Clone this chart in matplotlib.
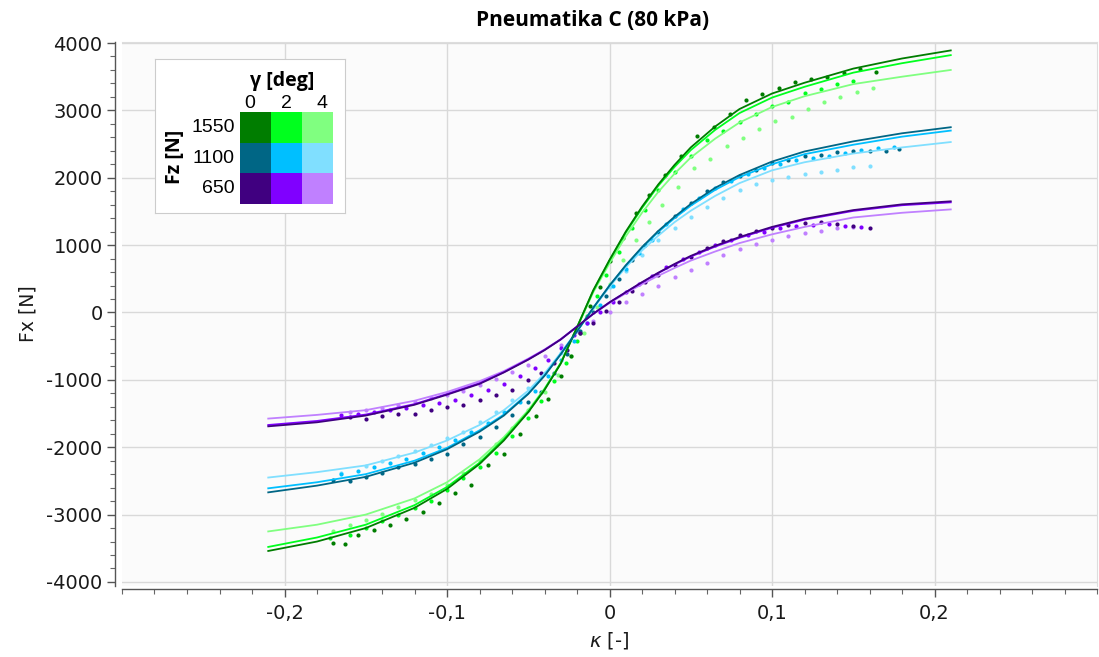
import matplotlib
matplotlib.use("Agg")
import matplotlib.pyplot as plt
from matplotlib.patches import Rectangle
from matplotlib.ticker import FuncFormatter, MultipleLocator, FixedLocator

plt.rcParams["axes.unicode_minus"] = False
plt.rcParams["font.family"] = ["DejaVu Sans"]

# --- data --------------------------------------------------------------
FZ_LABELS = ["1550", "1100", "650"]
GAMMA_LABELS = ["0", "2", "4"]

COLORS = [
    ["#007d00", "#00ff1e", "#80ff80"],   # 1550 N
    ["#006685", "#00bfff", "#80dfff"],   # 1100 N
    ["#400080", "#8000ff", "#c080ff"],   # 650 N
]

# fitted curves (same kappa grid for all)
KAPPA_FIT = [-0.21, -0.18, -0.15, -0.12, -0.10, -0.08, -0.065, -0.05, -0.04, -0.03, -0.02,
             -0.01, 0.0, 0.01, 0.02, 0.03, 0.04, 0.05, 0.065, 0.08, 0.10, 0.12, 0.15,
             0.18, 0.21]

fit_1550_0 = [-3540, -3400, -3200, -2900, -2620, -2250, -1900, -1480, -1150, -760, -220,
              330, 780, 1200, 1570, 1900, 2190, 2450, 2760, 3020, 3250, 3410, 3620,
              3770, 3890]
fit_1550_2 = [-3480, -3340, -3150, -2860, -2590, -2230, -1880, -1470, -1140, -750, -220,
              320, 770, 1185, 1550, 1880, 2160, 2410, 2710, 2960, 3190, 3350, 3560,
              3700, 3820]
fit_1550_4 = [-3250, -3150, -3000, -2760, -2520, -2180, -1850, -1450, -1130, -750, -230,
              300, 730, 1130, 1480, 1790, 2060, 2300, 2580, 2820, 3050, 3210, 3390,
              3500, 3600]
fit_1100_0 = [-2670, -2570, -2440, -2230, -2030, -1770, -1530, -1210, -940, -620, -280,
              70, 400, 700, 970, 1210, 1420, 1610, 1850, 2040, 2240, 2390, 2540,
              2660, 2750]
fit_1100_2 = [-2610, -2520, -2400, -2200, -2010, -1750, -1515, -1200, -935, -615, -280,
              70, 400, 695, 960, 1195, 1400, 1585, 1820, 2010, 2200, 2350, 2490,
              2610, 2700]
fit_1100_4 = [-2450, -2370, -2270, -2080, -1900, -1670, -1450, -1160, -905, -600, -275,
              60, 380, 670, 920, 1140, 1340, 1510, 1730, 1920, 2110, 2230, 2360,
              2450, 2530]
fit_650_0 = [-1690, -1630, -1530, -1370, -1220, -1060, -890, -700, -560, -400, -210,
             -20, 150, 300, 450, 590, 720, 840, 990, 1120, 1270, 1390, 1520,
             1605, 1650]
fit_650_2 = [-1670, -1610, -1515, -1360, -1210, -1050, -885, -695, -555, -400, -210,
             -20, 150, 300, 445, 585, 712, 830, 978, 1108, 1258, 1378, 1508,
             1592, 1635]
fit_650_4 = [-1575, -1520, -1450, -1310, -1180, -1020, -870, -685, -550, -395, -210,
             -20, 140, 285, 420, 545, 660, 770, 905, 1030, 1160, 1270, 1410,
             1480, 1530]

# measured points
k_1550_0 = [-0.170, -0.163, -0.155, -0.145, -0.135, -0.125, -0.115, -0.105, -0.095, -0.085,
            -0.075, -0.065, -0.055, -0.045, -0.038, -0.030, -0.024, -0.018, -0.012, -0.006,
            0.000, 0.008, 0.016, 0.024, 0.034, 0.044, 0.054, 0.064, 0.074, 0.084, 0.094,
            0.104, 0.114, 0.124, 0.134, 0.144, 0.154, 0.164]
f_1550_0 = [-3420, -3430, -3300, -3230, -3150, -3060, -2960, -2830, -2680, -2560,
            -2270, -2100, -1800, -1530, -1280, -950, -650, -300, 90, 380,
            760, 1100, 1470, 1740, 2040, 2330, 2620, 2760, 2950, 3150, 3250,
            3330, 3420, 3470, 3500, 3560, 3620, 3570]
k_1550_2 = [-0.172, -0.160, -0.150, -0.140, -0.130, -0.120, -0.110, -0.100, -0.090, -0.080,
            -0.070, -0.060, -0.050, -0.042, -0.034, -0.027, -0.020, -0.014, -0.008, -0.002,
            0.006, 0.014, 0.022, 0.030, 0.040, 0.050, 0.060, 0.070, 0.080, 0.090, 0.100,
            0.110, 0.120, 0.130, 0.140, 0.150]
f_1550_2 = [-3350, -3300, -3200, -3100, -3000, -2900, -2800, -2640, -2450, -2300,
            -2080, -1830, -1560, -1320, -1020, -750, -420, -50, 250, 560,
            900, 1250, 1520, 1820, 2080, 2330, 2560, 2700, 2830, 2940, 3070,
            3130, 3260, 3310, 3390, 3440]
k_1550_4 = [-0.170, -0.160, -0.150, -0.140, -0.130, -0.120, -0.110, -0.100, -0.090, -0.080,
            -0.070, -0.060, -0.050, -0.040, -0.032, -0.024, -0.016, -0.008, 0.000, 0.008,
            0.016, 0.024, 0.032, 0.042, 0.052, 0.062, 0.072, 0.082, 0.092, 0.102, 0.112,
            0.122, 0.132, 0.142, 0.152, 0.162]
f_1550_4 = [-3250, -3150, -3080, -2990, -2890, -2790, -2700, -2560, -2380, -2200,
            -1950, -1720, -1450, -1180, -930, -650, -300, 80, 420, 780,
            1080, 1350, 1600, 1870, 2150, 2280, 2470, 2590, 2720, 2840, 2900,
            3020, 3120, 3200, 3270, 3330]
k_1100_0 = [-0.170, -0.160, -0.150, -0.140, -0.130, -0.120, -0.110, -0.100, -0.090, -0.080,
            -0.070, -0.060, -0.050, -0.042, -0.034, -0.026, -0.018, -0.010, -0.002, 0.006,
            0.014, 0.022, 0.030, 0.040, 0.050, 0.060, 0.070, 0.080, 0.090, 0.100, 0.110,
            0.120, 0.130, 0.140, 0.150, 0.160, 0.170, 0.178]
f_1100_0 = [-2480, -2500, -2440, -2380, -2300, -2250, -2170, -2100, -1950, -1850,
            -1700, -1520, -1330, -1180, -900, -620, -280, 0, 250, 500,
            780, 1000, 1200, 1430, 1620, 1810, 1930, 2030, 2110, 2220, 2270,
            2320, 2340, 2380, 2400, 2400, 2390, 2430]
k_1100_2 = [-0.165, -0.155, -0.145, -0.135, -0.125, -0.115, -0.105, -0.095, -0.085, -0.075,
            -0.065, -0.055, -0.046, -0.038, -0.030, -0.022, -0.014, -0.006, 0.002, 0.010,
            0.018, 0.026, 0.035, 0.045, 0.055, 0.065, 0.075, 0.085, 0.095, 0.105, 0.115,
            0.125, 0.135, 0.145, 0.155, 0.165, 0.175]
f_1100_2 = [-2400, -2350, -2300, -2230, -2170, -2080, -2000, -1900, -1780, -1640,
            -1480, -1330, -1160, -950, -700, -420, -150, 110, 400, 650,
            880, 1080, 1320, 1530, 1700, 1850, 1950, 2050, 2140, 2200, 2260,
            2300, 2330, 2370, 2410, 2440, 2460]
k_1100_4 = [-0.165, -0.150, -0.140, -0.130, -0.120, -0.110, -0.100, -0.090, -0.080, -0.070,
            -0.060, -0.050, -0.040, -0.030, -0.020, -0.010, 0.000, 0.010, 0.020, 0.030,
            0.040, 0.050, 0.060, 0.070, 0.080, 0.090, 0.100, 0.110, 0.120, 0.130,
            0.140, 0.150, 0.160]
f_1100_4 = [-2380, -2280, -2200, -2130, -2050, -1960, -1870, -1780, -1620, -1480,
            -1300, -1120, -900, -600, -250, 80, 380, 620, 860, 1070,
            1250, 1420, 1570, 1700, 1820, 1900, 1960, 2010, 2060, 2090,
            2120, 2160, 2180]
k_650_0 = [-0.160, -0.150, -0.140, -0.130, -0.120, -0.110, -0.100, -0.090, -0.080, -0.070,
           -0.060, -0.050, -0.042, -0.034, -0.026, -0.018, -0.010, -0.002, 0.006, 0.014,
           0.022, 0.030, 0.040, 0.050, 0.060, 0.070, 0.080, 0.090, 0.100, 0.110,
           0.120, 0.130, 0.140, 0.150, 0.160]
f_650_0 = [-1550, -1580, -1540, -1510, -1500, -1450, -1400, -1380, -1300, -1230,
           -1150, -1000, -900, -750, -550, -300, -150, 20, 150, 320,
           450, 560, 700, 830, 950, 1060, 1150, 1210, 1260, 1300,
           1330, 1340, 1320, 1280, 1260]
k_650_2 = [-0.165, -0.155, -0.145, -0.135, -0.125, -0.115, -0.105, -0.095, -0.085, -0.075,
           -0.065, -0.055, -0.046, -0.038, -0.030, -0.022, -0.014, -0.006, 0.002, 0.010,
           0.018, 0.026, 0.035, 0.045, 0.055, 0.065, 0.075, 0.085, 0.095, 0.105,
           0.115, 0.125, 0.135, 0.145, 0.155]
f_650_2 = [-1520, -1500, -1480, -1450, -1420, -1380, -1350, -1300, -1230, -1150,
           -1060, -950, -820, -700, -520, -330, -150, 10, 150, 300,
           420, 540, 680, 800, 900, 1000, 1080, 1150, 1200, 1250,
           1280, 1300, 1310, 1290, 1270]
k_650_4 = [-0.160, -0.150, -0.140, -0.130, -0.120, -0.110, -0.100, -0.090, -0.080, -0.070,
           -0.060, -0.050, -0.040, -0.030, -0.020, -0.010, 0.000, 0.010, 0.020, 0.030,
           0.040, 0.050, 0.060, 0.070, 0.080, 0.090, 0.100, 0.110, 0.120, 0.130,
           0.140, 0.150]
f_650_4 = [-1470, -1450, -1420, -1380, -1330, -1270, -1230, -1160, -1080, -990,
           -890, -780, -640, -480, -280, -130, 0, 150, 280, 400,
           520, 630, 740, 850, 940, 1020, 1080, 1130, 1180, 1210,
           1250, 1270]

FITS = [[fit_1550_0, fit_1550_2, fit_1550_4],
        [fit_1100_0, fit_1100_2, fit_1100_4],
        [fit_650_0, fit_650_2, fit_650_4]]
MEAS = [[(k_1550_0, f_1550_0), (k_1550_2, f_1550_2), (k_1550_4, f_1550_4)],
        [(k_1100_0, f_1100_0), (k_1100_2, f_1100_2), (k_1100_4, f_1100_4)],
        [(k_650_0, f_650_0), (k_650_2, f_650_2), (k_650_4, f_650_4)]]

# --- figure --------------------------------------------------------------
W, H = 1099, 657
fig = plt.figure(figsize=(W / 100, H / 100), dpi=100)
ax = fig.add_axes([122 / W, 1 - 586 / H, (1097 - 122) / W, (586 - 42) / H])
ax.set_facecolor("#fbfbfb")

ax.set_xlim(-0.3, 0.3)
ax.set_ylim(-4060, 4015)

# draw light curves first so the dark ones sit on top
for j in (2, 1, 0):
    for i in range(3):
        ks, fs = MEAS[i][j]
        ax.scatter(ks, fs, s=9, color=COLORS[i][j], linewidths=0, zorder=3)
for j in (2, 1, 0):
    for i in range(3):
        ax.plot(KAPPA_FIT, FITS[i][j], color=COLORS[i][j], lw=1.3, zorder=4,
                solid_joinstyle="round")

# grid / spines
ax.xaxis.set_major_locator(FixedLocator([-0.2, -0.1, 0.0, 0.1, 0.2]))
ax.xaxis.set_minor_locator(MultipleLocator(0.02))
ax.yaxis.set_major_locator(MultipleLocator(1000))
ax.yaxis.set_minor_locator(MultipleLocator(200))
ax.grid(True, which="major", color="#d9d9d9", lw=1.0, zorder=0)
ax.set_axisbelow(True)

ax.xaxis.set_major_formatter(FuncFormatter(
    lambda v, p: "0" if abs(v) < 1e-9 else f"{v:.1f}".replace(".", ",")))
ax.yaxis.set_major_formatter(FuncFormatter(lambda v, p: f"{int(round(v))}"))

for side in ("top", "right"):
    ax.spines[side].set_color("#dddddd")
ax.spines["left"].set_position(("outward", 5))
ax.spines["bottom"].set_position(("outward", 2))
for side in ("left", "bottom"):
    ax.spines[side].set_color("#555555")
    ax.spines[side].set_linewidth(1.0)

ax.tick_params(which="major", length=6, width=1, color="#555555",
               labelsize=14, labelcolor="#1a1a1a")
ax.tick_params(which="minor", length=3.5, width=0.8, color="#666666")
ax.tick_params(axis="x", which="major", pad=5)
ax.tick_params(axis="y", which="major", pad=3)

ax.set_xlabel("$\\kappa$ [-]", fontsize=14, color="#1a1a1a", labelpad=5)
ax.set_ylabel("Fx [N]", fontsize=13.5, color="#1a1a1a", labelpad=6)
fig.text(593 / W, 1 - 20 / H, "Pneumatika C (80 kPa)", ha="center", va="center",
         fontsize=15, fontweight="bold", family=["Open Sans", "DejaVu Sans"])

# --- colour-grid legend (pixel coordinates inside its own axes) ----------
lx, ly, lw_, lh = 155, 59, 190, 154
lg = fig.add_axes([lx / W, 1 - (ly + lh) / H, lw_ / W, lh / H])
lg.set_xlim(0, lw_)
lg.set_ylim(lh, 0)
lg.set_xticks([])
lg.set_yticks([])
lg.set_facecolor("white")
for s in lg.spines.values():
    s.set_color("#cccccc")

cell_w, cell_h = 31, 30.7
x0, y0 = 85, 53
for i in range(3):
    for j in range(3):
        lg.add_patch(Rectangle((x0 + j * cell_w, y0 + i * cell_h), cell_w, cell_h,
                               facecolor=COLORS[i][j], edgecolor="none"))
bfont = ["Open Sans", "DejaVu Sans"]
nfont = ["Liberation Sans", "DejaVu Sans"]
lg.text(x0 + 1.5 * cell_w - 4, 22, "γ [deg]", ha="center", va="center",
        fontsize=14, fontweight="bold", family=bfont)
for j, g in enumerate(GAMMA_LABELS):
    lg.text(x0 + 10 + j * 36, 44, g, ha="center", va="center", fontsize=14,
            family=nfont)
for i, fz in enumerate(FZ_LABELS):
    lg.text(80, y0 + (i + 0.5) * cell_h, fz, ha="right", va="center", fontsize=14,
            family=nfont)
lg.text(20, 98, "Fz [N]", ha="center", va="center", rotation=90,
        fontsize=14, fontweight="bold", family=bfont)

fig.savefig("out.png", dpi=100)
